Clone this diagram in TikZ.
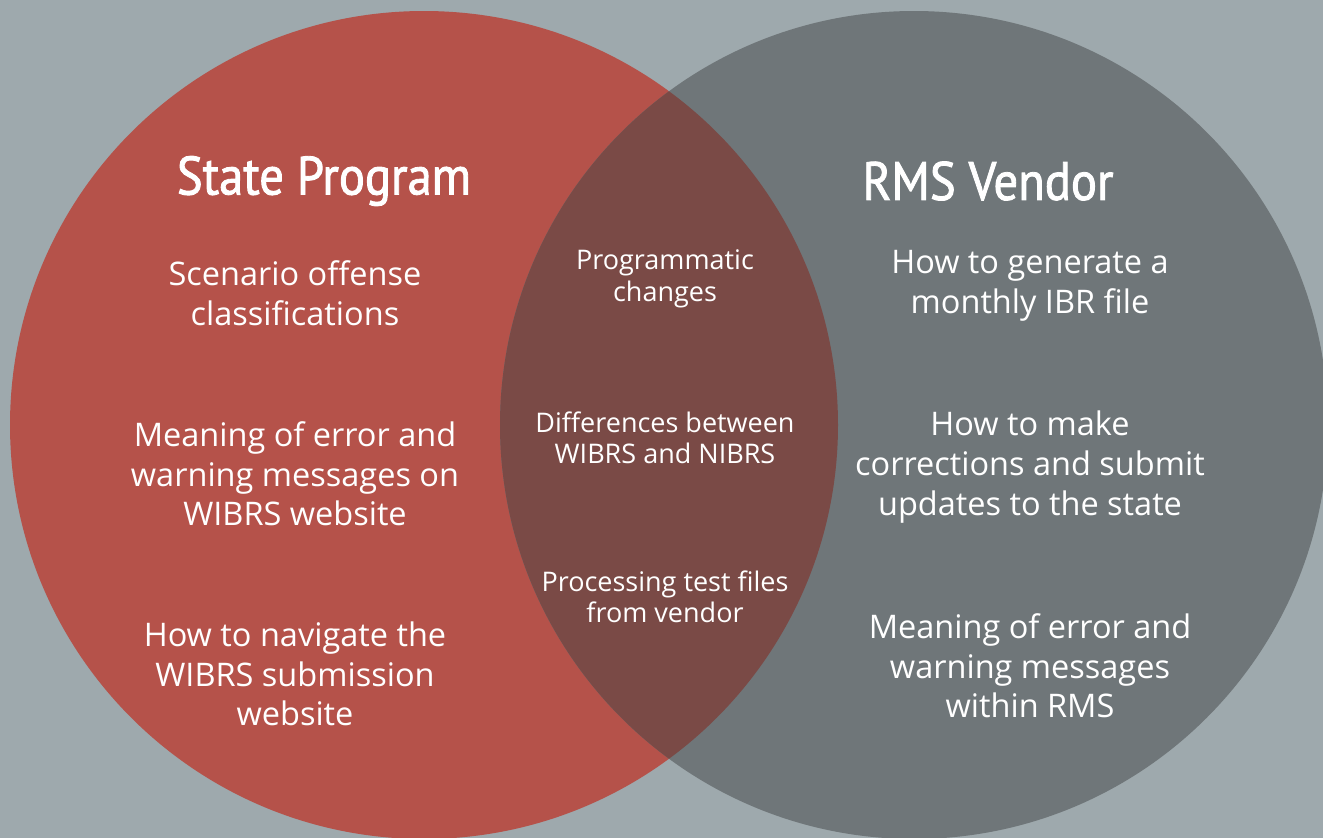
\documentclass[tikz,border=0pt]{standalone}
\usepackage{fontspec}
\setmainfont{Open Sans}
\newfontfamily\titlefont[FakeStretch=0.9,FakeBold=1.6]{PT Sans}
\definecolor{bgc}{HTML}{9EA9AD}
\definecolor{redc}{HTML}{B5524A}
\definecolor{grayc}{HTML}{6F7679}
\definecolor{overc}{HTML}{7A4A46}
\tikzset{
  title/.style={text=white, font=\titlefont\fontsize{54}{60}\selectfont, inner sep=0pt},
  body/.style={text=white, align=center, font=\fontsize{32.5}{39.7}\selectfont, inner sep=0pt},
  mid/.style={text=white, align=center, font=\fontsize{27}{31.5}\selectfont, inner sep=0pt}
}
\begin{document}
\begin{tikzpicture}[x=1pt,y=-1pt]
\useasboundingbox (0,0) rectangle (1323,838);
\fill[bgc] (0,0) rectangle (1323,838);
\fill[redc] (424,425) circle (414pt);
\fill[grayc] (914,425) circle (414pt);
\begin{scope}
  \clip (424,425) circle (414pt);
  \fill[overc] (914,425) circle (414pt);
\end{scope}
\node[title] (t1) at (324,181) {State Program};
\node[title] (t2) at (988,181) {RMS Vendor};
\node[body] (l1) at (295,293) {Scenario offense\\classifications};
\node[body] (l2) at (295,474) {Meaning of error and\\warning messages on\\WIBRS website};
\node[body] (l3) at (295,674) {How to navigate the\\WIBRS submission\\website};
\node[mid] (m1) at (665,279) {Programmatic\\changes};
\node[mid] (m2) at (665,438) {Differences between\\WIBRS and NIBRS};
\node[mid] (m3) at (665,597) {Processing test files\\from vendor};
\node[body] (r1) at (1030,286) {How to generate a\\monthly IBR file};
\node[body] (r2) at (1030,467) {How to make\\corrections and submit\\updates to the state};
\node[body] (r3) at (1030,666) {Meaning of error and\\warning messages\\within RMS};
\end{tikzpicture}
\end{document}
